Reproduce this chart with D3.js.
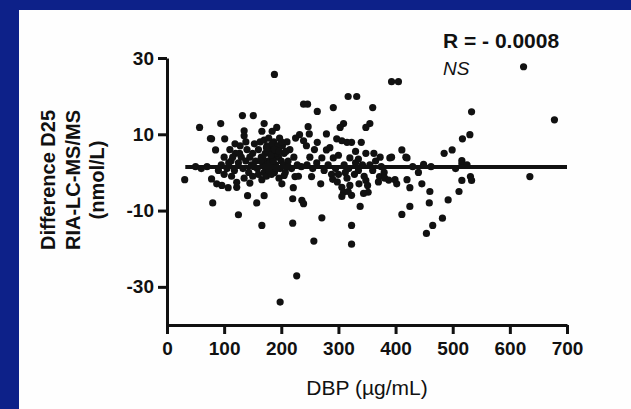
<!DOCTYPE html>
<html>
<head>
<meta charset="utf-8">
<script src="https://cdn.jsdelivr.net/npm/d3@7"></script>
<style>
  html, body { margin: 0; padding: 0; background: #0d2189; }
  svg { display: block; }
  text { font-family: Arial, "Liberation Sans", Helvetica, sans-serif; fill: #111; }
</style>
</head>
<body>
<div id="chart"></div>
<script>
// DBP (µg/mL) vs difference in D25 (nmol/L) //
var dbp = [
  188, 624, 393, 405, 317, 332, 239, 246, 263, 291, 360, 533, 678,
  132, 151, 94, 57, 170, 135, 135, 166, 184, 192,
  309, 303, 355, 348, 247,
  232, 239, 244, 249, 263, 279, 279,
  297, 306, 315, 323, 340, 348,
  271, 291, 320, 390, 411, 420, 393, 418,
  530, 517, 499, 485, 516, 516, 449,
  78, 101, 119, 85, 76,
  31, 80, 125, 166, 141, 157, 170, 145, 166, 201, 221, 220, 220, 224,
  78, 87, 96, 107, 122, 122,
  253, 269, 288, 290, 306, 309, 306, 320, 323, 348, 351, 352, 372, 399, 402, 420, 425, 446,
  236, 239, 338, 425, 411, 271, 323, 257, 323,
  635, 531, 533, 516, 460, 511, 492, 459, 482, 465, 454,
  227, 198,
  95, 100, 105, 110, 112, 118, 120, 125, 128, 130, 133, 138, 140, 143, 148, 150, 153, 155, 158, 160,
  163, 165, 168, 170, 172, 175, 177, 178, 180, 182, 185, 187, 188, 190, 192, 195, 197, 198, 200, 202,
  205, 207, 210, 212, 215, 218, 222, 225, 228, 174, 183, 196, 205, 160, 150, 135, 113, 100, 90, 70, 60, 50,
  245, 255, 262, 275, 282, 295, 300, 300, 310, 312, 318, 330, 335, 342, 345, 355, 360, 365, 375, 380,
  230, 235, 250, 258, 285, 298, 315, 328, 336, 344, 317, 335, 330, 362, 370, 381, 388,
  373, 430, 440, 462, 505, 525,
  168, 172, 176, 180, 184, 186, 190, 194, 178, 182, 188, 192, 196, 200, 204, 170, 174, 208, 164, 212,
  145, 152, 138, 127, 115, 108
];
var diff = [
  25.7, 27.7, 23.8, 23.8, 19.9, 19.9, 17.9, 17.9, 16, 17, 17, 15.9, 13.8,
  14.9, 14.9, 12.8, 11.8, 12.8, 10.9, 9.6, 10.8, 10.8, 11.8,
  12.8, 11.8, 12.8, 11.8, 12,
  9.9, 8.3, 7.0, 10.1, 7.9, 10.1, 5.9,
  8.8, 8.3, 7.9, 7.9, 7.9, 5.0,
  3.8, 3.8, 3.8, 3.8, 5.9, 3.8, 4, 4,
  9.9, 8.8, 5.9, 5.0, 3.1, 2.3, 2.1,
  8.8, 8.8, 7.5, 5.9, 8.9,
  -1.9, -8.0, -11.1, -13.9, -6.1, -8.0, -6.1, -2.8, -1.9, -3.0, -4.0, -6.9, -13.3, -1.1,
  -1.7, -3.0, -3.4, -4.0, -3.9, -2.6,
  -1.1, -3.0, -0.5, -1.8, -3.9, -5.2, -6.3, -3.4, -6.0, -2.1, -3.4, -5.2, -1.1, -1.9, -3.0, -1.9, -4.0, -3.0,
  -7.3, -8.2, -8.9, -8.9, -11, -11.9, -13.9, -18, -18.8,
  -1.1, -1.1, -2.1, -2.1, -5.0, -5.0, -7.2, -8.0, -12, -13.9, -16,
  -27.1, -34.0,
  2, 4, 1, 6, 3, 0.5, 5, 2.5, 7, 4, 1, 3, 6, 0, 2, 5, 7.5, 3, 1, 6,
  8, 4, 2, 0, 5, 7, 3, 9, 1, 6, 4, 8, 0, 2, 6, 4, 9, 1, 3, 7,
  5, 0, 8, 3, 6, 1, 4, 9, 2, -1, -0.5, -1.5, -0.8, -0.5, -1, -1.5, -1, -0.5, 0.5, 1.5, 1, 1.5,
  2, 1, 2.5, 0.5, 2, 1, 4.5, -0.5, 2, 0, 1, 2.5, 0.5, 2, -1, 2, 0.5, 3, 1.5, 0,
  -1, 1.5, 4, 6, 6.5, -2.5, -1.5, -0.5, -3, -5.5, -5, 3.5, 5.5, 5, -2.5, -1.5, -2,
  4, 1.5, 0, 1.5, 1, 2,
  3.5, 1.5, 5.5, 2.5, 7.5, 3, 5, 7, 0.5, 4.5, 6, 1, 5.5, 8, 2, 8.5, 6.5, 5.5, 3, 1.5,
  4, 1.5, 8, 5, 4, 2.5
];

// fitted line (flat, R = -0.0008)
var fitX = [32, 700];
var fitY = [1.4, 1.4];

var xTicks = [0, 100, 200, 300, 400, 500, 600, 700];
var yTicks = [30, 10, -10, -30];

const W = 631, H = 409;

const svg = d3.select("#chart")
  .append("svg")
  .attr("width", W)
  .attr("height", H);

// blue slide background + white panel
svg.append("rect")
  .attr("width", W).attr("height", H)
  .attr("fill", "#0d2189");
svg.append("rect")
  .attr("x", 19).attr("y", 10)
  .attr("width", W - 19).attr("height", H - 10)
  .attr("fill", "#fefefe");

const x = d3.scaleLinear().domain([0, 700]).range([167, 567]);
const y = d3.scaleLinear().domain([-40, 30]).range([325, 58]);

// plain hyphen for negatives, like the original
const fmt = d => String(d);

// axes //
const xAxis = svg.append("g")
  .attr("transform", `translate(0, ${y(-40)})`)
  .call(d3.axisBottom(x).tickValues(xTicks).tickFormat(fmt).tickSize(9).tickSizeOuter(0).tickPadding(8));

const yAxis = svg.append("g")
  .attr("transform", `translate(${x(0)}, 0)`)
  .call(d3.axisLeft(y).tickValues(yTicks).tickFormat(fmt).tickSize(9).tickSizeOuter(0).tickPadding(4));

[xAxis, yAxis].forEach(a => {
  a.selectAll("path, line").attr("stroke", "#111").attr("stroke-width", 3);
  a.selectAll("text")
    .style("font-size", "19px")
    .style("font-weight", "bold")
    .attr("fill", "#111");
});

// points //
const pts = dbp.map((d, i) => ({x: d, y: diff[i]}));

svg.append("g")
  .selectAll("circle")
  .data(pts)
  .enter()
  .append("circle")
  .attr("cx", d => x(d.x))
  .attr("cy", d => y(d.y))
  .attr("r", 3.6)
  .attr("fill", "#111");

// regression line //
svg.append("line")
  .attr("x1", x(fitX[0])).attr("y1", y(fitY[0]))
  .attr("x2", x(fitX[1])).attr("y2", y(fitY[1]))
  .attr("stroke", "#111")
  .attr("stroke-width", 4);

// labels //
svg.append("text")
  .attr("x", 443).attr("y", 48)
  .style("font-size", "21px")
  .style("font-weight", "bold")
  .text("R = - 0.0008");

svg.append("text")
  .attr("x", 443).attr("y", 75)
  .style("font-size", "19px")
  .style("font-style", "italic")
  .attr("fill", "#333")
  .text("NS");

svg.append("text")
  .attr("x", 367).attr("y", 395)
  .attr("text-anchor", "middle")
  .style("font-size", "21px")
  .text("DBP (µg/mL)");

const yTitle = ["Difference D25", "RIA-LC-MS/MS", "(nmol/L)"];
const yBase = [55, 80, 104];
svg.append("g")
  .selectAll("text")
  .data(yTitle)
  .enter()
  .append("text")
  .attr("transform", (d, i) => `translate(${yBase[i]}, 180) rotate(-90)`)
  .attr("text-anchor", "middle")
  .style("font-size", "20px")
  .style("font-weight", "bold")
  .text(d => d);
</script>
</body>
</html>
